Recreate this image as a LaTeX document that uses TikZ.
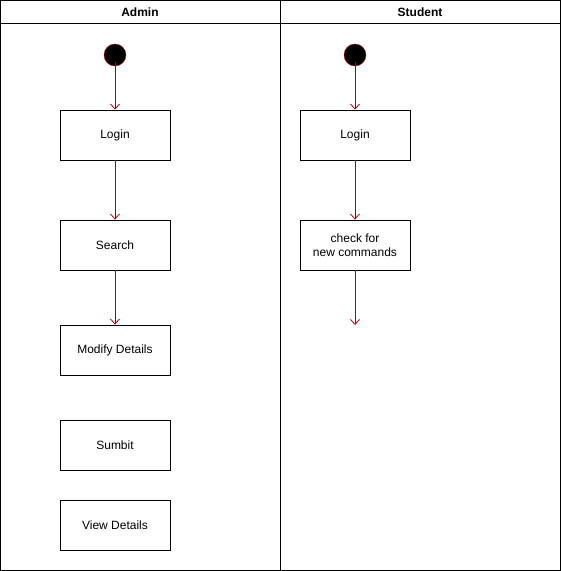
\documentclass[tikz,border=0pt]{standalone}
\usepackage{fontspec}
\setmainfont{Liberation Sans}
\usetikzlibrary{arrows.meta,positioning}
\definecolor{flowred}{RGB}{178,0,0}

\begin{document}
\begin{tikzpicture}[x=1pt,y=-1pt,
  font=\fontsize{12}{14}\selectfont,
  action/.style={draw,thick,minimum width=110pt,minimum height=50pt,align=center,inner sep=0pt},
  start/.style={circle,draw=flowred,fill=black,minimum size=22pt,inner sep=0pt},
  flow/.style={draw=flowred,thick,-{Straight Barb[length=5pt,width=9pt]}}]
\useasboundingbox (0,0) rectangle (561,571);
% swimlanes
\draw[thick] (0.5,0.5) rectangle (560,570);
\draw[thick] (0.5,23) -- (560,23);
\draw[thick] (280,0.5) -- (280,570);
\node[font=\fontsize{12}{14}\bfseries] (admin) at (140,12) {Admin};
\node[font=\fontsize{12}{14}\bfseries] (student) at (420,12) {Student};
% admin lane
\node[start] (astart) at (115,55) {};
\node[action] (alogin) at (115,135) {Login};
\node[action] (search) at (115,245) {Search};
\node[action] (modify) at (115,350) {Modify Details};
\node[action] (sumbit) at (115,445) {Sumbit};
\node[action] (view) at (115,525) {View Details};
\draw[flow] ([yshift=4pt]astart.south) -- (alogin.north);
\draw[flow] (alogin) -- (search);
\draw[flow] (search) -- (modify);
% student lane
\node[start] (sstart) at (355,55) {};
\node[action] (slogin) at (355,135) {Login};
\node[action] (check) at (355,245) {check for\\new commands};
\coordinate (send) at (355,325);
\draw[flow] ([yshift=4pt]sstart.south) -- (slogin.north);
\draw[flow] (slogin) -- (check);
\draw[flow] (check) -- (send);
\end{tikzpicture}
\end{document}
